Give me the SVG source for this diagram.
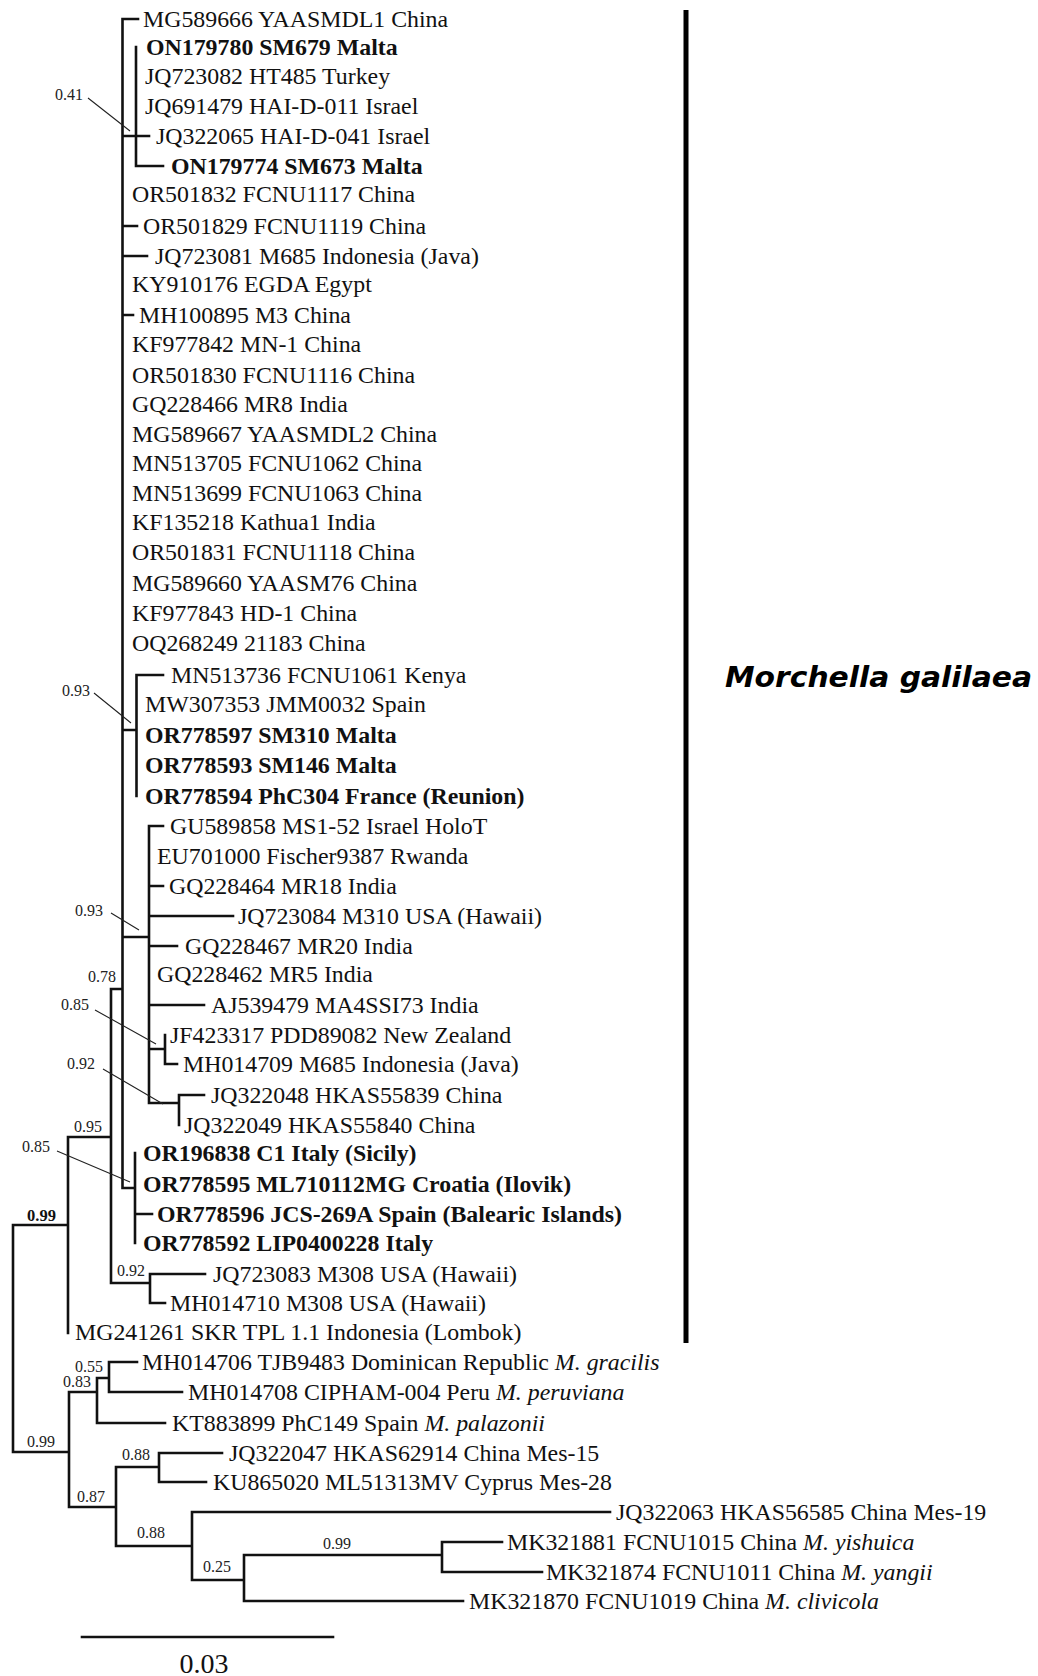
<svg xmlns="http://www.w3.org/2000/svg" width="1038" height="1676" viewBox="0 0 1038 1676">
<style>
.t{font-family:"Liberation Serif","Times New Roman",serif;font-size:23.85px;fill:#111}
.b{font-family:"Liberation Serif","Times New Roman",serif;font-size:23.85px;font-weight:bold;fill:#111}
.s{font-family:"Liberation Serif","Times New Roman",serif;font-size:16px;fill:#222}
.sb{font-family:"Liberation Serif","Times New Roman",serif;font-size:16.5px;font-weight:bold;fill:#111}
.i{font-style:italic}
.br{fill:none;stroke:#111;stroke-width:2.6;stroke-linecap:square}
.ld{fill:none;stroke:#222;stroke-width:1.1}
</style>
<rect width="1038" height="1676" fill="#fff"/>
<g id="connectors">
<path class="br" d="M122.5,19V1188M122.5,19H138M122.5,136H136M136,47V166M136,136H149M136,166H163M122.5,226H137M122.5,256H147M122.5,315H133
M122.5,730H136.5M136.5,675V796M136.5,675H163
M122.5,937H149M149,826V1103M149,826H163M149,886H163M149,916H233M149,946H177M149,1005H204M149,1049H165M165,1035V1064M165,1064H177M149,1103H179M179,1095V1125M179,1095H204
M122.5,1188H135M135,1153V1243M135,1214H152
M111,989H122.5M111,989V1283M111,1283H150M150,1274V1303M150,1274H205M150,1303H165
M68,1137H111M68,1137V1333
M13,1225H68M13,1225V1452M13,1452H69
M69,1392V1507M69,1392H97M97,1378V1423M97,1378H109M109,1362V1392M109,1362H137M109,1392H182M97,1423H165
M69,1507H116M116,1467V1546M116,1467H159M159,1453V1482M159,1453H222M159,1482H206
M116,1546H192M192,1512V1580M192,1512H610M192,1580H244M244,1555V1601M244,1555H442M244,1601H463M442,1542V1572M442,1542H502M442,1572H542"/>
<path class="ld" d="M88,98L130,131M94,693L131,723M111,913L139,930M95,1010L156,1044M103,1069L163,1104M57,1151L130,1182"/>
</g>
<g id="support">
<text class="s" x="55" y="100">0.41</text>
<text class="s" x="62" y="696">0.93</text>
<text class="s" x="75" y="916">0.93</text>
<text class="s" x="88" y="982">0.78</text>
<text class="s" x="61" y="1010">0.85</text>
<text class="s" x="67" y="1069">0.92</text>
<text class="s" x="74" y="1132">0.95</text>
<text class="s" x="22" y="1152">0.85</text>
<text class="sb" x="27" y="1221">0.99</text>
<text class="s" x="117" y="1276">0.92</text>
<text class="s" x="75" y="1372">0.55</text>
<text class="s" x="63" y="1387">0.83</text>
<text class="s" x="27" y="1447">0.99</text>
<text class="s" x="122" y="1460">0.88</text>
<text class="s" x="77" y="1502">0.87</text>
<text class="s" x="137" y="1538">0.88</text>
<text class="s" x="203" y="1572">0.25</text>
<text class="s" x="323" y="1549">0.99</text>
</g>
<g id="tips">
<g id="n1"><text class="t" x="143" y="27">MG589666 YAASMDL1 China</text></g>
<g id="n2"><text class="b" x="146" y="55">ON179780 SM679 Malta</text></g>
<g id="n3"><text class="t" x="145" y="84">JQ723082 HT485 Turkey</text></g>
<g id="n4"><text class="t" x="145" y="114">JQ691479 HAI-D-011 Israel</text></g>
<g id="n5"><text class="t" x="156" y="144">JQ322065 HAI-D-041 Israel</text></g>
<g id="n6"><text class="b" x="171" y="174">ON179774 SM673 Malta</text></g>
<g id="n7"><text class="t" x="132" y="202">OR501832 FCNU1117 China</text></g>
<g id="n8"><text class="t" x="143" y="234">OR501829 FCNU1119 China</text></g>
<g id="n9"><text class="t" x="155" y="264">JQ723081 M685 Indonesia (Java)</text></g>
<g id="n10"><text class="t" x="132" y="292">KY910176 EGDA Egypt</text></g>
<g id="n11"><text class="t" x="139" y="323">MH100895 M3 China</text></g>
<g id="n12"><text class="t" x="132" y="352">KF977842 MN-1 China</text></g>
<g id="n13"><text class="t" x="132" y="383">OR501830 FCNU1116 China</text></g>
<g id="n14"><text class="t" x="132" y="412">GQ228466 MR8 India</text></g>
<g id="n15"><text class="t" x="132" y="442">MG589667 YAASMDL2 China</text></g>
<g id="n16"><text class="t" x="132" y="471">MN513705 FCNU1062 China</text></g>
<g id="n17"><text class="t" x="132" y="501">MN513699 FCNU1063 China</text></g>
<g id="n18"><text class="t" x="132" y="530">KF135218 Kathua1 India</text></g>
<g id="n19"><text class="t" x="132" y="560">OR501831 FCNU1118 China</text></g>
<g id="n20"><text class="t" x="132" y="591">MG589660 YAASM76 China</text></g>
<g id="n21"><text class="t" x="132" y="621">KF977843 HD-1 China</text></g>
<g id="n22"><text class="t" x="132" y="651">OQ268249 21183 China</text></g>
<g id="n23"><text class="t" x="171" y="683">MN513736 FCNU1061 Kenya</text></g>
<g id="n24"><text class="t" x="145" y="712">MW307353 JMM0032 Spain</text></g>
<g id="n25"><text class="b" x="145" y="743">OR778597 SM310 Malta</text></g>
<g id="n26"><text class="b" x="145" y="773">OR778593 SM146 Malta</text></g>
<g id="n27"><text class="b" x="145" y="804">OR778594 PhC304 France (Reunion)</text></g>
<g id="n28"><text class="t" x="170" y="834">GU589858 MS1-52 Israel HoloT</text></g>
<g id="n29"><text class="t" x="157" y="864">EU701000 Fischer9387 Rwanda</text></g>
<g id="n30"><text class="t" x="169" y="894">GQ228464 MR18 India</text></g>
<g id="n31"><text class="t" x="238" y="924">JQ723084 M310 USA (Hawaii)</text></g>
<g id="n32"><text class="t" x="185" y="954">GQ228467 MR20 India</text></g>
<g id="n33"><text class="t" x="157" y="982">GQ228462 MR5 India</text></g>
<g id="n34"><text class="t" x="211" y="1013">AJ539479 MA4SSI73 India</text></g>
<g id="n35"><text class="t" x="170" y="1043">JF423317 PDD89082 New Zealand</text></g>
<g id="n36"><text class="t" x="183" y="1072">MH014709 M685 Indonesia (Java)</text></g>
<g id="n37"><text class="t" x="211" y="1103">JQ322048 HKAS55839 China</text></g>
<g id="n38"><text class="t" x="184" y="1133">JQ322049 HKAS55840 China</text></g>
<g id="n39"><text class="b" x="143" y="1161">OR196838 C1 Italy (Sicily)</text></g>
<g id="n40"><text class="b" x="143" y="1192">OR778595 ML710112MG Croatia (Ilovik)</text></g>
<g id="n41"><text class="b" x="157" y="1222">OR778596 JCS-269A Spain (Balearic Islands)</text></g>
<g id="n42"><text class="b" x="143" y="1251">OR778592 LIP0400228 Italy</text></g>
<g id="n43"><text class="t" x="213" y="1282">JQ723083 M308 USA (Hawaii)</text></g>
<g id="n44"><text class="t" x="170" y="1311">MH014710 M308 USA (Hawaii)</text></g>
<g id="n45"><text class="t" x="75" y="1340">MG241261 SKR TPL 1.1 Indonesia (Lombok)</text></g>
<g id="n46"><text class="t" x="142" y="1370">MH014706 TJB9483 Dominican Republic <tspan class="i">M. gracilis</tspan></text></g>
<g id="n47"><text class="t" x="188" y="1400">MH014708 CIPHAM-004 Peru <tspan class="i">M. peruviana</tspan></text></g>
<g id="n48"><text class="t" x="172" y="1431">KT883899 PhC149 Spain <tspan class="i">M. palazonii</tspan></text></g>
<g id="n49"><text class="t" x="229" y="1461">JQ322047 HKAS62914 China Mes-15</text></g>
<g id="n50"><text class="t" x="213" y="1490">KU865020 ML51313MV Cyprus Mes-28</text></g>
<g id="n51"><text class="t" x="616" y="1520">JQ322063 HKAS56585 China Mes-19</text></g>
<g id="n52"><text class="t" x="507" y="1550">MK321881 FCNU1015 China <tspan class="i">M. yishuica</tspan></text></g>
<g id="n53"><text class="t" x="546" y="1580">MK321874 FCNU1011 China <tspan class="i">M. yangii</tspan></text></g>
<g id="n54"><text class="t" x="469" y="1609">MK321870 FCNU1019 China <tspan class="i">M. clivicola</tspan></text></g>
</g>
<g id="clade-bar">
<rect x="683.5" y="10" width="5" height="1333" fill="#000"/>
<text x="725" y="687" font-family="'DejaVu Sans',sans-serif" font-size="28" font-weight="bold" font-style="italic" textLength="307" lengthAdjust="spacingAndGlyphs">Morchella galilaea</text>
</g>
<g id="scale">
<path class="br" d="M82,1637H333"/>
<text x="204" y="1673" text-anchor="middle" font-family="'Liberation Serif',serif" font-size="28" fill="#111">0.03</text>
</g>
</svg>
